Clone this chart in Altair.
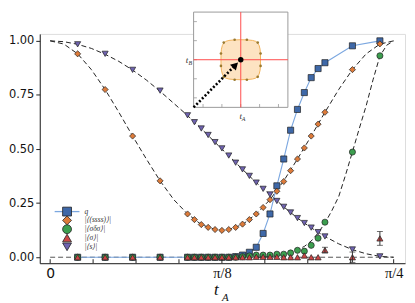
import math
import altair as alt
import pandas as pd

PI = math.pi

# ---------------- data ----------------
# simulation sample index k, with t_A = k * pi / 200
k_points = [4, 8, 12, 16, 20, 21, 22, 23, 24, 25, 26, 27, 28, 29, 30,
            31, 32, 33, 34, 35, 36, 37, 38, 39, 40, 44, 48]

q_vals = [0.0, 0.0, 0.0, 0.0, 0.0, 0.0, 0.0, 0.0, 0.0, 0.0, 0.0, 0.003, 0.01, 0.023, 0.046,
          0.11, 0.2, 0.33, 0.454, 0.587, 0.683, 0.761, 0.83, 0.872, 0.899, 0.977, 1.0]
ssss_vals = [0.94, 0.775, 0.56, 0.353, 0.2, 0.174, 0.151, 0.138, 0.128, 0.124, 0.128, 0.138, 0.153, 0.174, 0.2,
             0.23, 0.266, 0.305, 0.35, 0.40, 0.454, 0.505, 0.56, 0.615, 0.67, 0.867, 0.986]
sds_vals = [0.0, 0.0, 0.0, 0.0, 0.0, 0.0, 0.0, 0.0, 0.0, 0.0, 0.0, 0.0, 0.003, 0.006, 0.01,
            0.01, 0.01, 0.014, 0.014, 0.02, 0.032, 0.028, 0.055, 0.088, 0.162, 0.486, 0.931]
sigma_vals = [0.0, 0.0, 0.0, 0.0, 0.0, 0.0, 0.0, 0.0, 0.0, 0.0, 0.0, 0.0, 0.0, 0.0, 0.002,
              0.002, 0.002, 0.002, 0.0, 0.0, 0.0, 0.008, 0.0, 0.0, 0.033, 0.0, 0.087]
sigma_err = [0.0, 0.0, 0.0, 0.0, 0.0, 0.0, 0.0, 0.0, 0.0, 0.0, 0.0, 0.0, 0.0, 0.0, 0.0,
             0.0, 0.0, 0.0, 0.0, 0.0, 0.0, 0.0, 0.0, 0.0, 0.013, 0.024, 0.032]
s_vals = [0.984, 0.94, 0.866, 0.77, 0.656, 0.624, 0.595, 0.565, 0.532, 0.503, 0.47, 0.437, 0.406, 0.376, 0.345,
          0.316, 0.29, 0.26, 0.233, 0.207, 0.181, 0.158, 0.137, 0.116, 0.096, 0.036, 0.004]

series_names = ["q", "|⟨(ssss)⟩|", "|⟨σδσ⟩|", "|⟨σ⟩|", "|⟨s⟩|"]
series_colors = ["#3e68a8", "#dd7b3a", "#3c9e4f", "#cc4545", "#6f63b0"]
series_shapes = ["square", "diamond", "circle", "triangle-up", "triangle-down"]

# dashed theory curves (sample index k, value)
curve_k = [0, 2, 4, 6, 8, 10, 12, 14, 16, 18, 20, 22, 24, 25, 26, 28, 30, 32, 34, 36, 38, 40, 42, 44, 46, 48, 50]
curve_s = [1.0, 0.996, 0.984, 0.965, 0.938, 0.905, 0.865, 0.819, 0.767, 0.711, 0.655, 0.594, 0.531, 0.5, 0.469,
           0.406, 0.345, 0.29, 0.233, 0.181, 0.136, 0.096, 0.062, 0.035, 0.016, 0.004, 0.0]
curve_ssss = [1.0, 0.985, 0.94, 0.867, 0.775, 0.67, 0.56, 0.454, 0.353, 0.266, 0.2, 0.151, 0.128, 0.124, 0.128,
              0.151, 0.2, 0.266, 0.353, 0.454, 0.56, 0.67, 0.775, 0.867, 0.94, 0.985, 1.0]
curve_sds_k = [30, 32, 34, 36, 37, 38, 39, 40, 41, 42, 43, 44, 45, 46, 47, 48, 49, 50]
curve_sds = [0.0, 0.003, 0.012, 0.035, 0.05, 0.075, 0.112, 0.158, 0.215, 0.28, 0.38, 0.487, 0.595, 0.7,
             0.82, 0.93, 0.98, 1.0]
curve_zero_k = [0, 50]
curve_zero = [0.0, 0.0]

x_tick_labels = ["0", "π/8", "π/4"]
x_minor_ticks = [0, 1, 2, 3, 4, 5, 6, 7, 8]   # multiples of pi/32
y_ticks = [0.0, 0.25, 0.5, 0.75, 1.0]

# inset (its own unit square coordinates)
inset_shape_x = [-0.42, -0.418, -0.41, -0.39, -0.36, -0.32, -0.25, -0.15, 0.0,
                 0.15, 0.25, 0.32, 0.36, 0.39, 0.41, 0.418, 0.42]
inset_shape_up = [0.0, 0.13, 0.22, 0.30, 0.35, 0.385, 0.405, 0.415, 0.42,
                  0.415, 0.405, 0.385, 0.35, 0.30, 0.22, 0.13, 0.0]
inset_dot_x = [-0.36, -0.13, 0.13, 0.36, 0.42, 0.42, 0.36, 0.13, -0.13, -0.36, -0.42, -0.42]
inset_dot_y = [0.36, 0.42, 0.42, 0.36, 0.13, -0.13, -0.36, -0.42, -0.42, -0.36, -0.13, 0.13]
inset_ticks = [-0.8, -0.4, 0.0, 0.4, 0.8]
arrow_x = [-1.0, -0.13]
arrow_y = [-1.0, -0.13]

# ---------------- tables ----------------
step = PI / 200
rows = []
for name, vals in zip(series_names, [q_vals, ssss_vals, sds_vals, sigma_vals, s_vals]):
    for k, v in zip(k_points, vals):
        rows.append({"t": k * step, "v": v, "series": name})
pts = pd.DataFrame(rows)

qline = pd.DataFrame({"t": [k * step for k in k_points], "v": q_vals})
err = pd.DataFrame({"t": [k * step for k in k_points], "v": sigma_vals, "e": sigma_err})
err = err[err["e"] > 0].copy()
err["lo"] = err["v"] - err["e"]
err["hi"] = err["v"] + err["e"]

crows = []
for name, ks, vs in [("s", curve_k, curve_s), ("ssss", curve_k, curve_ssss), ("sds", curve_sds_k, curve_sds)]:
    for k, v in zip(ks, vs):
        crows.append({"t": k * step, "v": v, "curve": name})
curves = pd.DataFrame(crows)
zero_curve = pd.DataFrame({"t": [k * step for k in curve_zero_k], "v": curve_zero})
xticks_df = pd.DataFrame({"t": [m * PI / 32 for m in x_minor_ticks]})

xsc = alt.Scale(domain=[-0.0238, 0.8114], nice=False, zero=False)
ysc = alt.Scale(domain=[-0.0275, 1.032], nice=False, zero=False)
csc = alt.Scale(domain=series_names, range=series_colors)
ssc = alt.Scale(domain=series_names, range=series_shapes)

label_expr = "datum.value < 0.1 ? '0' : (datum.value < 0.5 ? 'π/8' : 'π/4')"
x_axis = alt.Axis(values=[0, PI / 8, PI / 4], labelExpr=label_expr, ticks=False, tickSize=0,
                  labelPadding=3, labelFlush=False, labelOverlap=False, grid=False,
                  domainColor="#222", labelColor="#111",
                  labelFont={"condition": {"test": "datum.value < 0.1", "value": "DejaVu Sans"},
                             "value": "Liberation Serif"},
                  labelFontSize={"condition": {"test": "datum.value < 0.1", "value": 14},
                                 "value": 14.5})
y_axis = alt.Axis(values=y_ticks, format=".2f", tickSize=4, labelPadding=2, grid=False,
                  labelFontSize=11.5, labelFont="DejaVu Sans", domainColor="#222",
                  tickColor="#222", labelColor="#111")

X = alt.X("t:Q", scale=xsc, axis=x_axis, title=None)
Y = alt.Y("v:Q", scale=ysc, axis=y_axis, title=None)

zero_layer = alt.Chart(zero_curve).mark_line(strokeDash=[5, 3], color="#555", strokeWidth=1).encode(x=X, y=Y)
curve_layer = alt.Chart(curves).mark_line(strokeDash=[5, 3], color="#222", strokeWidth=1).encode(
    x=X, y=Y, detail="curve:N")
q_layer = alt.Chart(qline).mark_line(color="#7ba7e0", strokeWidth=1.1).encode(x=X, y=Y)

pt_layer = alt.Chart(pts).mark_point(filled=True, size=38, stroke="#222", strokeWidth=0.7, opacity=1).encode(
    x=X, y=Y,
    color=alt.Color("series:N", scale=csc, legend=None),
    shape=alt.Shape("series:N", scale=ssc, legend=None),
)
err_rule = alt.Chart(err).mark_rule(color="#333", strokeWidth=1).encode(
    x=alt.X("t:Q", scale=xsc), y=alt.Y("lo:Q", scale=ysc), y2="hi:Q")
err_lo = alt.Chart(err).mark_tick(orient="horizontal", color="#333", size=6, thickness=1).encode(
    x=alt.X("t:Q", scale=xsc), y=alt.Y("lo:Q", scale=ysc))
err_hi = alt.Chart(err).mark_tick(orient="horizontal", color="#333", size=6, thickness=1).encode(
    x=alt.X("t:Q", scale=xsc), y=alt.Y("hi:Q", scale=ysc))

xtick_layer = alt.Chart(xticks_df).mark_rule(color="#222", strokeWidth=1).encode(
    x=alt.X("t:Q", scale=xsc), y=alt.value(231), y2=alt.value(227))

title_t = alt.Chart(pd.DataFrame({"txt": ["t"]})).mark_text(
    font="Liberation Serif", fontStyle="italic", fontSize=17, color="#111", baseline="alphabetic"
).encode(text="txt:N", x=alt.value(178), y=alt.value(263))
title_a = alt.Chart(pd.DataFrame({"txt": ["A"]})).mark_text(
    font="Liberation Serif", fontStyle="italic", fontSize=11, color="#111", baseline="alphabetic"
).encode(text="txt:N", x=alt.value(187), y=alt.value(269))

main = alt.layer(zero_layer, curve_layer, q_layer, pt_layer, err_rule, err_lo, err_hi,
                 xtick_layer, title_t, title_a)

# ---------------- legend (own small scales) ----------------
lgx = alt.Scale(domain=[0, 1], range=[15, 40], nice=False, zero=False)
lgy = alt.Scale(domain=[0, 4], range=[179, 214.5], nice=False, zero=False)
leg_df = pd.DataFrame({"series": series_names, "i": [0, 1, 2, 3, 4],
                       "xs": [0.5] * 5, "xl": [1.2] * 5})
leg_line = alt.Chart(pd.DataFrame({"a": [0.0], "b": [1.0], "i": [0]})).mark_rule(
    color="#7ba7e0", strokeWidth=1.3).encode(
    x=alt.X("a:Q", scale=lgx, axis=None, title=None), x2="b:Q",
    y=alt.Y("i:Q", scale=lgy, axis=None, title=None))
leg_sym = alt.Chart(leg_df).mark_point(filled=True, size=80, stroke="#222", strokeWidth=0.8, opacity=1).encode(
    x=alt.X("xs:Q", scale=lgx, axis=None, title=None),
    y=alt.Y("i:Q", scale=lgy, axis=None, title=None),
    color=alt.Color("series:N", scale=csc, legend=None),
    shape=alt.Shape("series:N", scale=ssc, legend=None))
leg_txt = alt.Chart(leg_df).mark_text(font="Liberation Serif", fontStyle="italic", fontSize=7.5,
                                      color="#333", align="left", baseline="middle").encode(
    x=alt.X("xl:Q", scale=lgx, axis=None, title=None),
    y=alt.Y("i:Q", scale=lgy, axis=None, title=None),
    text="series:N")
legend_layer = alt.layer(leg_line, leg_sym, leg_txt)

# ---------------- inset ----------------
isx = alt.Scale(domain=[-1, 1], range=[155, 250], nice=False, zero=False)
isy = alt.Scale(domain=[-1, 1], range=[74, -22], nice=False, zero=False)

def IX(f):
    return alt.X(f, scale=isx, axis=None, title=None)

def IY(f):
    return alt.Y(f, scale=isy, axis=None, title=None, stack=None)

frame = alt.Chart(pd.DataFrame({"x0": [-1], "x1": [1], "y0": [-1], "y1": [1]})).mark_rect(
    fill="white", stroke="#9a9a9a", strokeWidth=1).encode(x=IX("x0:Q"), x2="x1:Q", y=IY("y0:Q"), y2="y1:Q")

tk = pd.DataFrame({"p": inset_ticks, "a": [-1.0] * len(inset_ticks), "b": [-0.93] * len(inset_ticks)})
bticks = alt.Chart(tk).mark_rule(color="#9a9a9a", strokeWidth=0.8).encode(
    x=IX("p:Q"), y=IY("a:Q"), y2="b:Q")
lticks = alt.Chart(tk).mark_rule(color="#9a9a9a", strokeWidth=0.8).encode(
    y=IY("p:Q"), x=IX("a:Q"), x2="b:Q")

shape_df = pd.DataFrame({"x": inset_shape_x, "up": inset_shape_up,
                         "lo": [-u for u in inset_shape_up]})
blob = alt.Chart(shape_df).mark_area(fill="#fde3c2", stroke="#f2b35c", strokeWidth=1, opacity=1).encode(
    x=IX("x:Q"), y=IY("up:Q"), y2="lo:Q")

cross = pd.DataFrame({"x0": [0.0, -1.0], "x1": [0.0, 1.0], "y0": [-1.0, 0.0], "y1": [1.0, 0.0]})
cross_layer = alt.Chart(cross).mark_rule(color="#ff4d4d", strokeWidth=1).encode(
    x=IX("x0:Q"), x2="x1:Q", y=IY("y0:Q"), y2="y1:Q")

dots = alt.Chart(pd.DataFrame({"x": inset_dot_x, "y": inset_dot_y})).mark_point(
    filled=True, color="#9a7a30", size=7, opacity=1).encode(x=IX("x:Q"), y=IY("y:Q"))

arrow = alt.Chart(pd.DataFrame({"x": arrow_x, "y": arrow_y})).mark_line(
    color="black", strokeWidth=2.6, strokeDash=[2, 2]).encode(x=IX("x:Q"), y=IY("y:Q"))
head = alt.Chart(pd.DataFrame({"x": [arrow_x[1]], "y": [arrow_y[1]]})).mark_point(
    shape="triangle", angle=45, filled=True, color="black", size=70, opacity=1).encode(x=IX("x:Q"), y=IY("y:Q"))
center = alt.Chart(pd.DataFrame({"x": [0.0], "y": [0.0]})).mark_point(
    filled=True, color="black", size=30, opacity=1).encode(x=IX("x:Q"), y=IY("y:Q"))

lab = pd.DataFrame({"x": [-1.14, -1.07, 0.0, 0.06], "y": [0.0, -0.07, -1.18, -1.25],
                    "txt": ["t", "B", "t", "A"], "fs": [9, 6, 9, 6]})
lab_layer = alt.Chart(lab).mark_text(font="Liberation Serif", fontStyle="italic", color="#333",
                                     baseline="middle").encode(
    x=IX("x:Q"), y=IY("y:Q"), text="txt:N", size=alt.Size("fs:Q", scale=None, legend=None))

inset = alt.layer(frame, bticks, lticks, blob, cross_layer, dots, arrow, head, center, lab_layer)

chart = alt.layer(main, legend_layer, inset).resolve_scale(
    x="independent", y="independent", size="independent").properties(
    width=368, height=231, padding={"left": 0, "top": 2, "right": 2, "bottom": 0}
).configure_view(stroke=None).configure(background="white")

chart.save("out.html", embed_options={"renderer": "svg", "actions": False})
